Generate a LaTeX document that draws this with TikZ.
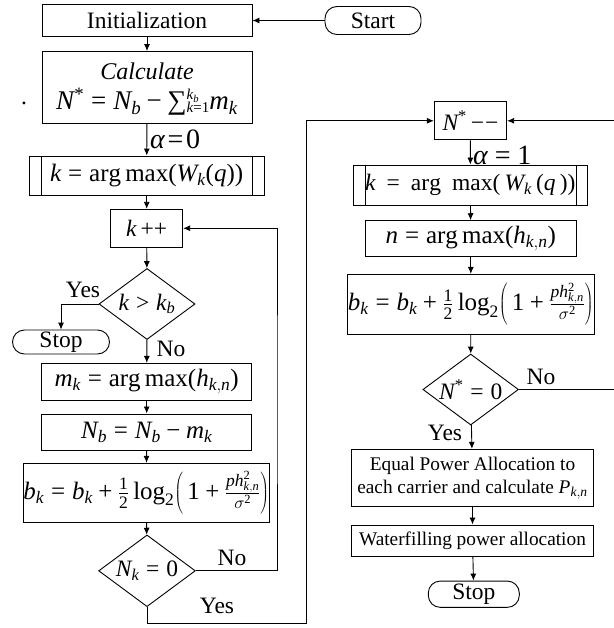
\documentclass[tikz,border=0pt]{standalone}
\usepackage[no-math]{fontspec}
\setmainfont{Liberation Serif}[NFSSFamily=libser]
\DeclareSymbolFont{tletters}{TU}{libser}{m}{it}
\DeclareSymbolFont{troman}{TU}{libser}{m}{n}
\DeclareMathSymbol{N}{\mathalpha}{tletters}{`N}
\DeclareMathSymbol{b}{\mathalpha}{tletters}{`b}
\DeclareMathSymbol{k}{\mathalpha}{tletters}{`k}
\DeclareMathSymbol{m}{\mathalpha}{tletters}{`m}
\DeclareMathSymbol{W}{\mathalpha}{tletters}{`W}
\DeclareMathSymbol{q}{\mathalpha}{tletters}{`q}
\DeclareMathSymbol{h}{\mathalpha}{tletters}{`h}
\DeclareMathSymbol{n}{\mathalpha}{tletters}{`n}
\DeclareMathSymbol{p}{\mathalpha}{tletters}{`p}
\DeclareMathSymbol{P}{\mathalpha}{tletters}{`P}
\DeclareMathSymbol{=}{\mathrel}{troman}{`=}
\DeclareMathSymbol{+}{\mathbin}{troman}{`+}
\DeclareMathSymbol{>}{\mathrel}{troman}{`>}
\DeclareMathSymbol{*}{\mathord}{troman}{`*}
\DeclareMathSymbol{0}{\mathalpha}{troman}{`0}
\DeclareMathSymbol{1}{\mathalpha}{troman}{`1}
\DeclareMathSymbol{2}{\mathalpha}{troman}{`2}
\DeclareMathSymbol{(}{\mathopen}{troman}{`(}
\DeclareMathSymbol{)}{\mathclose}{troman}{`)}
\makeatletter
\def\operator@font{\mathgroup\symtroman}
\makeatother
\newcommand\mysum{\mbox{∑}}
\newcommand\tminus{\mathbin{\mbox{−}}}
\newcommand\talpha{\mbox{\itshape α}}
\usetikzlibrary{arrows.meta,shapes.geometric}
\begin{document}
\begin{tikzpicture}[x=1pt,y=-1pt,
  every node/.style={font=\fontsize{23.5}{27}\selectfont, inner sep=0pt},
  box/.style={draw, line width=0.9pt},
  term/.style={draw, line width=0.9pt, rounded corners=12pt},
  dia/.style={draw, line width=0.9pt, shape=diamond},
  small/.style={font=\fontsize{19.3}{23}\selectfont},
  big/.style={font=\fontsize{25}{28}\selectfont},
  arr/.style={-{Latex[length=7pt,width=6pt]}, line width=0.9pt},
  ln/.style={line width=0.9pt}
]
\useasboundingbox (0,0) rectangle (613,628);
% left column
\node[box, minimum width=210, minimum height=32] (init) at (147,20.5) {Initialization};
\node[term, minimum width=96, minimum height=28] (start) at (373,20.5) {Start};
\node[box, minimum width=210, minimum height=72] (calc) at (147,87.5) {};
\node[anchor=base, font=\fontsize{24}{28}\selectfont\itshape] (calc1) at (147,80) {Calculate};
\node[anchor=base, font=\fontsize{27}{30}\selectfont] (calc2) at (147,110)
  {$N^{*}=N_b\tminus\mysum\raisebox{10pt}{\rlap{\fontsize{15}{15}\selectfont$k_b$}}\raisebox{-3pt}{\fontsize{15}{15}\selectfont$k\mathord{=}1$}m_k$};
\node (dot) at (24,103) {.};
\node[box, big, minimum width=235, minimum height=39] (kb) at (146.7,175.5) {$k=\arg\max(W_k(q))$};
\draw[ln] ([xshift=12.4pt]kb.north west) -- ([xshift=12.4pt]kb.south west);
\draw[ln] ([xshift=-12.4pt]kb.north east) -- ([xshift=-12.4pt]kb.south east);
\node[box, minimum width=72, minimum height=38] (kpp) at (146.7,228.3) {$k\,{+}{+}$};
\node[dia, minimum width=96, minimum height=71, label={center:$k>k_b$}] (d1) at (147,304) {};
\node[term, minimum width=97, minimum height=24] (stop1) at (61,342) {Stop};
\node[box, big, minimum width=210, minimum height=36.7] (mk) at (146.7,381.7) {$m_k=\arg\max(h_{k,n})$};
\node[box, big, minimum width=210, minimum height=36.7] (nb) at (146.7,432.3) {$N_b=N_b\tminus m_k$};
\node[box, big, minimum width=246, minimum height=59.4] (bk) at (146.3,493)
  {$b_k=b_k+\frac{1}{2}\log_2\!\left(\,1+\frac{ph_{k,n}^2}{\sigma^2}\right)$};
\node[dia, minimum width=96.7, minimum height=71.7, label={center:$N_k=0$}] (d2) at (147,570.8) {};
% right column
\node[box, minimum width=72.4, minimum height=38.3] (ns) at (470.5,120.8) {$N^{*}$\hspace{4pt}−\hspace{1pt}−};
\node[box, minimum width=234, minimum height=40] (kb2) at (470.3,185) {$k\,=\,\arg\;\max(\,W_k\,(q\,))$};
\draw[ln] ([xshift=12.4pt]kb2.north west) -- ([xshift=12.4pt]kb2.south west);
\draw[ln] ([xshift=-11.3pt]kb2.north east) -- ([xshift=-11.3pt]kb2.south east);
\node[box, big, minimum width=210.3, minimum height=36] (nb2) at (470.8,238.7) {$n=\arg\max(h_{k,n})$};
\node[box, big, minimum width=246.3, minimum height=59.7] (bk2) at (470.8,304.2)
  {$b_k=b_k+\frac{1}{2}\log_2\!\left(\,1+\frac{ph_{k,n}^2}{\sigma^2}\right)$};
\node[dia, minimum width=95.6, minimum height=71, label={center:$N^{*}=0$}] (d3) at (470.7,389.5) {};
\node[box, small, minimum width=241.6, minimum height=57.4, align=center] (eq) at (472.5,478)
  {Equal Power Allocation to\\each carrier and calculate $P_{k,n}$};
\node[box, small, minimum width=241.6, minimum height=31.7] (wf) at (472.5,540.8) {Waterfilling power allocation};
\node[term, minimum width=91, minimum height=26.3] (stop2) at (473.8,594.2) {Stop};
% connectors
\draw[arr] (start.west) -- (init.east);
\draw[arr] (init) -- (calc);
\draw[arr] (calc) -- (kb);
\node[anchor=west, font=\fontsize{28}{30}\selectfont] (al0) at (150,139) {$\talpha\!=\!0$};
\draw[arr] (kb) -- (kpp);
\draw[arr] (kpp) -- (d1);
\draw[arr] (d1.west) -| (stop1.north);
\node (yes1) at (83,290) {Yes};
\draw[arr] (d1) -- (mk);
\node (no1) at (171,349) {No};
\draw[arr] (mk) -- (nb);
\draw[arr] (nb) -- (bk);
\draw[arr] (bk) -- (d2);
\coordinate (r1) at (277,400);
\draw[arr] (d2.east) -| (r1) |- (kpp.east);
\node (no2) at (232,558) {No};
\coordinate (b1) at (147,623.3);
\coordinate (b2) at (306,623.3);
\draw[arr] (d2.south) -- (b1) -- (b2) |- (ns.west);
\node (yes2) at (217,606) {Yes};
\draw[arr] (ns) -- (kb2);
\node[anchor=west, font=\fontsize{28}{30}\selectfont] (al1) at (473,155) {$\talpha=1$};
\draw[arr] (kb2) -- (nb2);
\draw[arr] (nb2) -- (bk2);
\draw[arr] (bk2) -- (d3);
\coordinate (r2) at (616,250);
\draw[arr] (d3.east) -| (r2) |- (ns.east);
\node (no3) at (541,377) {No};
\draw[arr] (d3) -- (eq);
\node (yes3) at (445,433) {Yes};
\draw[arr] (eq) -- (wf);
\draw[arr] (wf) -- (stop2);
\end{tikzpicture}
\end{document}
